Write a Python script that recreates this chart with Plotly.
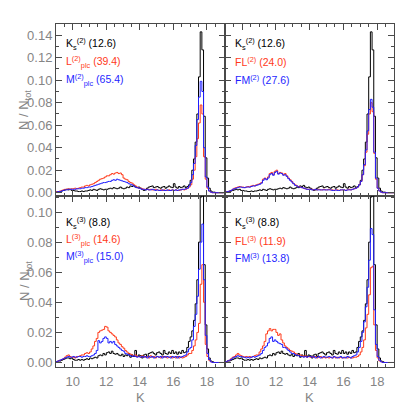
import numpy as np
import plotly.graph_objects as go

# Histogram bins in K magnitude
K_START = 9.0
K_BIN = 0.1

# N/N_tot per bin, in units of 1e-3 (bins 9.0-9.1, 9.1-9.2, ..., 18.9-19.0)
ks2 = [0.5, 1, 1, 1.5, 2, 2.5, 3, 2.5, 3, 2,
       2, 1.5, 1.5, 1, 1, 1.5, 1, 1.5, 1.5, 2,
       2.5, 2, 3, 2.5, 2, 3, 3.5, 3, 2.5, 3,
       3, 3.5, 4, 3.5, 4.5, 4, 3.5, 4, 5, 4,
       3.5, 4, 5, 4.5, 6, 5.5, 6.5, 5, 4.5, 5,
       4, 3, 2, 2.5, 4, 5, 5.5, 6, 4.5, 5,
       5.5, 4.5, 4, 5, 5.5, 4, 5, 6, 5, 4.5,
       8, 5, 4, 5.5, 4.5, 5, 6, 4.5, 5.5, 7,
       11, 20, 30, 45, 70, 103, 143, 127, 68, 31,
       13, 4, 1.5, 0.5, 0.5, 0, 0, 0, 0, 0]
l2 = [1, 1, 1.5, 2, 2.5, 3, 3, 3.5, 3, 3.5,
      3.5, 4, 3.5, 4, 4.5, 5, 5, 6, 6.5, 6,
      7, 7.5, 8, 9, 10, 11, 12, 12.5, 13, 14,
      15, 15, 16, 17, 16.5, 17.5, 18, 17, 17.5, 16,
      13, 12, 11.5, 10, 9, 8.5, 7, 6, 5, 4,
      4, 3.5, 3, 3, 3, 2.5, 3, 2.5, 2.5, 3,
      2.5, 2, 2.5, 2, 2.5, 2, 2, 2.5, 2, 2.5,
      2, 2.5, 2, 2, 2.5, 3, 2.5, 3, 4, 5,
      7, 12, 20, 32, 48, 62, 78, 70, 32, 12,
      4, 1.5, 0.5, 0, 0, 0, 0, 0, 0, 0]
m2 = [0.5, 1, 1, 1.5, 2, 2.5, 2.5, 3, 3, 3,
      3, 3, 3.5, 3.5, 3.5, 4, 4, 4.5, 4.5, 5,
      5, 5.5, 6, 6.5, 7, 7.5, 8, 8.5, 9, 9,
      9.5, 10, 10, 11, 11.5, 11, 12, 11.5, 11, 10.5,
      10, 9.5, 9, 8, 7.5, 7, 6, 5, 4.5, 4,
      3.5, 3, 3, 2.5, 3, 2.5, 2.5, 3, 2.5, 2,
      2.5, 2, 2, 2.5, 2, 2, 2.5, 2, 2, 2.5,
      2, 2.5, 2, 2.5, 2.5, 3, 3, 3.5, 4, 6,
      9, 16, 26, 42, 65, 85, 99, 90, 40, 14,
      5, 1.5, 0.5, 0, 0, 0, 0, 0, 0, 0]
fl2 = [0.5, 1, 1.5, 2, 3, 4, 4.5, 5, 5.5, 5,
       5, 4.5, 5, 5.5, 5, 6, 6.5, 6, 7, 7.5,
       8, 9, 12, 13, 12, 14, 17, 18, 16, 19,
       20, 17, 18, 17.5, 16, 17, 15, 13, 11.5, 10,
       8, 7, 6, 5.5, 5, 4.5, 4, 3.5, 3, 3,
       3, 3, 2.5, 3, 2.5, 3, 2.5, 2.5, 3, 2.5,
       2.5, 3, 2.5, 2.5, 2, 2.5, 2.5, 2, 2.5, 2.5,
       2.5, 2, 2.5, 3, 2.5, 3, 3.5, 4, 5, 7,
       10, 16, 24, 36, 52, 70, 80, 72, 35, 12,
       4, 1.5, 0.5, 0, 0, 0, 0, 0, 0, 0]
fm2 = [0.5, 1, 1.5, 2, 3, 3.5, 4, 4.5, 5, 5,
       4.5, 4.5, 5, 5, 5, 5.5, 6, 6, 6.5, 7,
       7.5, 8.5, 11, 12.5, 11.5, 13, 16, 17, 15.5, 18,
       19, 16.5, 17.5, 17, 15.5, 16, 14.5, 12.5, 11, 9.5,
       8, 6.5, 6, 5, 5, 4.5, 4, 3.5, 3, 3,
       3, 2.5, 2.5, 3, 2.5, 2.5, 2.5, 2.5, 2.5, 2.5,
       2.5, 2.5, 2.5, 2, 2, 2.5, 2, 2, 2.5, 2.5,
       2.5, 2, 2.5, 2.5, 2.5, 3, 3.5, 4, 5, 7,
       10, 16, 25, 38, 55, 74, 83, 76, 36, 13,
       4, 1.5, 0.5, 0, 0, 0, 0, 0, 0, 0]
ks3 = [0.5, 1, 1, 1.5, 2, 2.5, 3, 3, 2.5, 3,
       2, 1.5, 1.5, 2, 1.5, 2, 1.5, 2, 2.5, 2,
       3, 2.5, 3, 3.5, 3, 4.5, 5, 4.5, 6, 5,
       6.5, 7, 6, 7.5, 6, 5.5, 6, 5, 4.5, 5.5,
       4, 5, 4.5, 6, 3.5, 5, 4, 8, 4, 5,
       4.5, 3, 5, 5.5, 4, 6, 6.5, 7, 6, 5,
       6.5, 7, 6, 5, 8, 6, 5.5, 7, 6, 8,
       6, 7, 5.5, 7, 6, 8, 6.5, 7, 10, 14,
       17, 21, 28, 39, 55, 80, 110, 116, 65, 25,
       9, 3, 1, 0.5, 0, 0, 0, 0, 0, 0]
l3 = [0.5, 1, 1.5, 2, 2.5, 3.5, 4.5, 5, 4, 3.5,
      3.5, 3, 4, 4, 4.5, 5, 5, 6, 6.5, 6,
      7, 9, 11, 14, 16, 20, 21, 21.5, 22, 24,
      23.5, 21, 20, 19, 18, 17, 15, 13, 12, 10.5,
      9.5, 8, 7, 6, 5.5, 5, 4.5, 5, 4, 4,
      3.5, 4.5, 4, 3.5, 4, 3, 4.5, 3.5, 4, 3,
      4, 3.5, 3, 4, 3.5, 4, 3, 3.5, 4, 3,
      3.5, 3, 4, 3, 3.5, 3, 3.5, 4, 5, 6,
      6, 8, 11, 15, 20, 26, 52, 65, 40, 12,
      4, 1.5, 0.5, 0, 0, 0, 0, 0, 0, 0]
m3 = [0.5, 1, 1.5, 2, 2.5, 3, 3.5, 4, 3.5, 3.5,
      4, 3.5, 3.5, 4, 4, 3.5, 4, 4, 4.5, 4,
      4, 4.5, 5, 6, 8, 14.5, 13, 14, 16, 17,
      16, 13, 14, 13, 14, 12, 11, 10, 9, 8,
      7.5, 6, 5.5, 5, 4.5, 4, 4.5, 4, 3.5, 4,
      3.5, 4, 3.5, 4, 3, 4, 3.5, 4, 3, 3.5,
      4, 3.5, 4, 3, 4, 3.5, 4, 3.5, 3, 4,
      3.5, 4, 3, 4, 3.5, 4, 4.5, 5, 7, 9,
      10, 15, 24, 32, 44, 62, 80, 92, 55, 18,
      6, 2, 0.5, 0, 0, 0, 0, 0, 0, 0]
fl3 = [0.5, 1, 1.5, 2.5, 3.5, 4, 5, 6, 5, 4.5,
       4, 3.5, 4, 3.5, 4, 3.5, 4, 4.5, 5, 5,
       7, 9, 11, 14, 19, 21, 22.5, 21, 22, 22,
       20, 18, 19, 15, 13, 11, 10, 9, 8, 7.5,
       7, 6, 5.5, 5, 5, 4.5, 4, 4.5, 3.5, 4,
       3.5, 4, 3.5, 4, 3, 3.5, 4, 3, 3.5, 3,
       3.5, 3, 3.5, 3, 4, 3, 3.5, 3, 3.5, 3,
       3, 3.5, 3, 3.5, 3, 3, 3.5, 3.5, 4, 5,
       7, 10, 15, 23, 32, 45, 63, 64, 25, 8,
       3, 1, 0.5, 0, 0, 0, 0, 0, 0, 0]
fm3 = [0.5, 1, 1.5, 2, 3, 3.5, 4, 4.5, 4, 4,
       3.5, 3.5, 3, 3.5, 3, 3.5, 4, 3.5, 4, 4.5,
       5, 6, 8, 10, 11, 13, 16, 17, 14, 15,
       14, 13, 12.5, 12, 10, 10, 9, 8, 7, 6,
       6, 5, 5, 4.5, 4, 4, 3.5, 4, 3.5, 4,
       4, 3.5, 4, 3, 3.5, 4, 3, 3.5, 4, 3.5,
       3.5, 4, 3.5, 3, 4, 3.5, 3, 3.5, 4, 3,
       3.5, 3, 4, 3.5, 3, 4, 4.5, 5, 7, 10,
       14, 20, 27, 37, 50, 68, 89, 85, 35, 12,
       4, 1.5, 0.5, 0, 0, 0, 0, 0, 0, 0]

# legend labels per panel
labels_tl = ["K<sub>s</sub><sup>(2)</sup> (12.6)", "L<sup>(2)</sup><sub>plc</sub> (39.4)", "M<sup>(2)</sup><sub>plc</sub> (65.4)"]
labels_tr = ["K<sub>s</sub><sup>(2)</sup> (12.6)", "FL<sup>(2)</sup> (24.0)", "FM<sup>(2)</sup> (27.6)"]
labels_bl = ["K<sub>s</sub><sup>(3)</sup> (8.8)", "L<sup>(3)</sup><sub>plc</sub> (14.6)", "M<sup>(3)</sup><sub>plc</sub> (15.0)"]
labels_br = ["K<sub>s</sub><sup>(3)</sup> (8.8)", "FL<sup>(3)</sup> (11.9)", "FM<sup>(3)</sup> (13.8)"]

COLORS = ["#000000", "#ff3a1a", "#1f1fff"]
W, H = 399, 415


def steps(vals):
    v = np.asarray(vals, dtype=float) / 1000.0
    edges = K_START + K_BIN * np.arange(len(v) + 1)
    return edges, np.append(v, v[-1])


fig = go.Figure()
panels = [
    ("x", "y", [ks2, l2, m2], labels_tl),
    ("x2", "y2", [ks2, fl2, fm2], labels_tr),
    ("x3", "y3", [ks3, l3, m3], labels_bl),
    ("x4", "y4", [ks3, fl3, fm3], labels_br),
]
for xa, ya, series, _ in panels:
    for vals, col in zip(series, COLORS):
        xs, ys = steps(vals)
        fig.add_trace(go.Scatter(x=xs, y=ys, mode="lines", line=dict(color=col, width=1, shape="hv"),
                                 xaxis=xa, yaxis=ya, showlegend=False, hoverinfo="skip"))

AX = "#4a4a4a"
TICKFONT = dict(family="Liberation Sans, Arial, sans-serif", size=13, color="#858585")


def xaxis(domain, rng, labels, anchor):
    return dict(domain=domain, range=rng, anchor=anchor, automargin=False, showline=True, mirror="allticks",
                linecolor=AX, linewidth=1, ticks="inside", ticklen=6, tickcolor=AX, tickwidth=1,
                showgrid=False, zeroline=False, tick0=0, dtick=2, showticklabels=labels, tickfont=TICKFONT,
                ticklabelstandoff=2,
                minor=dict(ticks="inside", ticklen=3, tickcolor=AX, dtick=0.5, tick0=0, showgrid=False))


def yaxis(domain, rng, labels, anchor):
    return dict(domain=domain, range=rng, anchor=anchor, automargin=False, showline=True, mirror="allticks",
                linecolor=AX, linewidth=1, ticks="inside", ticklen=6, tickcolor=AX, tickwidth=1,
                showgrid=False, zeroline=False, tick0=0, dtick=0.02, tickformat=".2f",
                showticklabels=labels, tickfont=TICKFONT,
                minor=dict(ticks="inside", ticklen=3, tickcolor=AX, dtick=0.01, tick0=0, showgrid=False))


xl = [56 / W, 224.5 / W]
xr = [224.5 / W, 394 / W]
yt = [1 - 195.5 / H, 1 - 24 / H]
yb = [1 - 367 / H, 1 - 195.5 / H]
TOP_RANGE = [-0.0025, 0.15]
BOT_RANGE = [-0.003, 0.111]

fig.update_layout(
    width=W, height=H, margin=dict(l=0, r=0, t=0, b=0, autoexpand=False),
    paper_bgcolor="white", plot_bgcolor="white", showlegend=False,
    xaxis=xaxis(xl, [9, 19.05], False, "y"),
    yaxis=yaxis(yt, TOP_RANGE, True, "x"),
    xaxis2=xaxis(xr, [8.95, 19], False, "y2"),
    yaxis2=yaxis(yt, TOP_RANGE, False, "x2"),
    xaxis3=xaxis(xl, [9, 19.05], True, "y3"),
    yaxis3=yaxis(yb, BOT_RANGE, True, "x3"),
    xaxis4=xaxis(xr, [8.95, 19], True, "y4"),
    yaxis4=yaxis(yb, BOT_RANGE, False, "x4"),
)

ann = []
LEGFONT = "Liberation Sans, Arial, sans-serif"
for (xa, ya, series, labels), x0, ys in [
    (panels[0], 64, [44, 62, 80]),
    (panels[1], 233, [44, 62, 80]),
    (panels[2], 64, [223, 240, 257]),
    (panels[3], 233, [223, 240, 257]),
]:
    for lab, col, yy in zip(labels, COLORS, ys):
        ann.append(dict(text=lab, x=x0 / W, y=1 - yy / H, xref="paper", yref="paper", xanchor="left",
                        yanchor="middle", showarrow=False, font=dict(family=LEGFONT, size=10.5, color=col)))

for yy in [110, 281]:
    ann.append(dict(text="N / N<sub>tot</sub>", x=25 / W, y=1 - yy / H, xref="paper", yref="paper",
                    textangle=-90, showarrow=False, xanchor="center", yanchor="middle",
                    font=dict(family=LEGFONT, size=13, color="#858585")))
for xx in [140, 309]:
    ann.append(dict(text="K", x=xx / W, y=1 - 397 / H, xref="paper", yref="paper", showarrow=False,
                    xanchor="center", yanchor="middle", font=dict(family=LEGFONT, size=13, color="#858585")))
fig.update_layout(annotations=ann)

fig.write_html("out.html", config={"displayModeBar": False},
               post_script="document.body.style.margin='0px';")
